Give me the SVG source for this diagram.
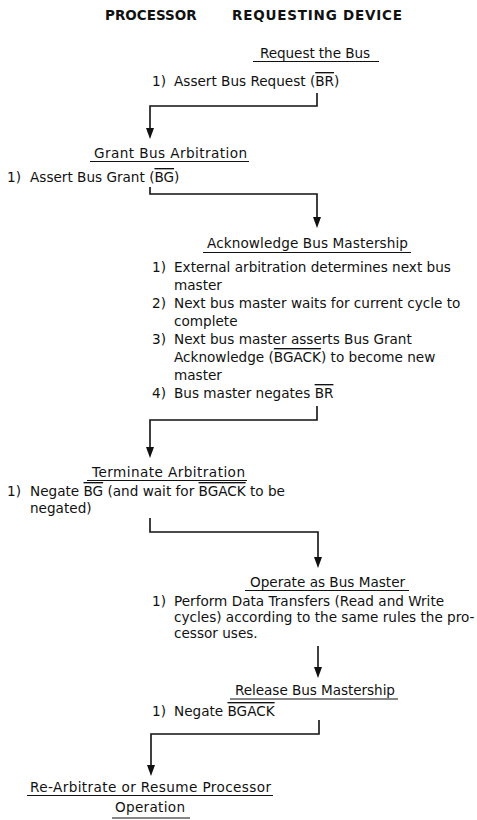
<svg xmlns="http://www.w3.org/2000/svg" width="477" height="820" viewBox="0 0 477 820">
<style>
text{font-family:"DejaVu Sans","Liberation Sans",sans-serif;font-size:13.6px;fill:#111}
text.h{font-weight:bold;font-size:13.5px}
.ov{text-decoration:overline}
.u{stroke:#111;stroke-width:1.1}
.c{fill:none;stroke:#111;stroke-width:1.6}
</style>
<defs>
<marker id="ah" markerUnits="userSpaceOnUse" markerWidth="12" markerHeight="9" refX="7" refY="4" orient="auto">
<path d="M0,0 L11,4 L0,8 z" fill="#111"/>
</marker>
</defs>
<g id="header">
<text class="h" x="105" y="20">PROCESSOR</text>
<text class="h" x="232" y="20" textLength="170">REQUESTING DEVICE</text>
</g>
<g id="request-bus">
<text x="260" y="58" textLength="110">Request the Bus</text>
<line class="u" x1="253" y1="61.5" x2="379" y2="61.5"/>
<text x="152" y="86">1)</text>
<text x="174" y="86">Assert Bus Request (<tspan class="ov">BR</tspan>)</text>
</g>
<g id="grant-arbitration">
<text x="94" y="158" textLength="153">Grant Bus Arbitration</text>
<line class="u" x1="90" y1="161.5" x2="249" y2="161.5"/>
<text x="7" y="182">1)</text>
<text x="30" y="182">Assert Bus Grant (<tspan class="ov">BG</tspan>)</text>
</g>
<g id="acknowledge-mastership">
<text x="207" y="248" textLength="201">Acknowledge Bus Mastership</text>
<line class="u" x1="203" y1="252.5" x2="411" y2="252.5"/>
<text x="152" y="272">1)</text>
<text x="174" y="272">External arbitration determines next bus</text>
<text x="174" y="290">master</text>
<text x="152" y="308">2)</text>
<text x="174" y="308">Next bus master waits for current cycle to</text>
<text x="174" y="326">complete</text>
<text x="152" y="344">3)</text>
<text x="174" y="344">Next bus master asserts Bus Grant</text>
<text x="174" y="362">Acknowledge (<tspan class="ov">BGACK</tspan>) to become new</text>
<text x="174" y="380">master</text>
<text x="152" y="398">4)</text>
<text x="174" y="398">Bus master negates <tspan class="ov">BR</tspan></text>
</g>
<g id="terminate-arbitration">
<text x="92" y="477" textLength="153">Terminate Arbitration</text>
<line class="u" x1="87" y1="480.5" x2="247" y2="480.5"/>
<text x="7" y="496">1)</text>
<text x="30" y="496">Negate <tspan class="ov">BG</tspan> (and wait for <tspan class="ov">BGACK</tspan> to be</text>
<text x="30" y="513">negated)</text>
</g>
<g id="operate-master">
<text x="250" y="587">Operate as Bus Master</text>
<line class="u" x1="245" y1="590.5" x2="409" y2="590.5"/>
<text x="152" y="606">1)</text>
<text x="174" y="606">Perform Data Transfers (Read and Write</text>
<text x="174" y="622">cycles) according to the same rules the pro-</text>
<text x="174" y="638">cessor uses.</text>
</g>
<g id="release-mastership">
<text x="235" y="695" textLength="160">Release Bus Mastership</text>
<line class="u" x1="230" y1="699" x2="398" y2="699"/>
<text x="152" y="716">1)</text>
<text x="174" y="716">Negate <tspan class="ov">BGACK</tspan></text>
</g>
<g id="rearbitrate">
<text x="30" y="792" textLength="241">Re-Arbitrate or Resume Processor</text>
<line class="u" x1="27" y1="795.5" x2="273" y2="795.5"/>
<text x="115" y="812" textLength="70">Operation</text>
<line class="u" x1="112" y1="818" x2="190" y2="818"/>
</g>
<g id="connectors">
<path class="c" d="M317,93 V106 H150 V135" marker-end="url(#ah)"/>
<path class="c" d="M150,187 V194 H317 V224" marker-end="url(#ah)"/>
<path class="c" d="M317,406 V420 H150 V454" marker-end="url(#ah)"/>
<path class="c" d="M150,518 V532 H318 V564" marker-end="url(#ah)"/>
<path class="c" d="M318,646 V674" marker-end="url(#ah)"/>
<path class="c" d="M319,720 V734 H151 V772" marker-end="url(#ah)"/>
</g>
</svg>
